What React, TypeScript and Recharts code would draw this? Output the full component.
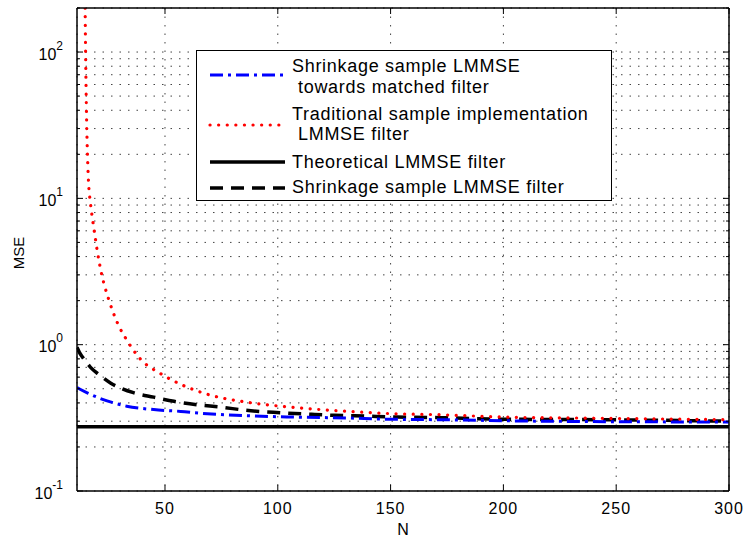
import { LineChart, Line, XAxis, YAxis, CartesianGrid, Legend } from "recharts";

const FONT = '"Liberation Sans", Arial, Helvetica, sans-serif';

// x = N (number of samples), y = MSE
const nShrinkMatched = [11, 16, 22, 28, 33, 45, 57, 66, 86, 107, 132, 146, 172, 216, 300];
const mseShrinkMatched = [0.51, 0.465, 0.425, 0.397, 0.38, 0.36, 0.35, 0.34, 0.327, 0.32, 0.315, 0.31, 0.307, 0.3, 0.296];

const nTraditional = [14, 15, 16, 17, 18, 19, 20, 22, 25, 29, 33, 39, 48, 58, 68, 86, 101, 131, 150, 172, 200, 235, 300];
const mseTraditional = [2000, 60, 14, 9.2, 7.0, 5.5, 4.35, 3.0, 2.05, 1.4, 1.08, 0.8, 0.635, 0.527, 0.462, 0.405, 0.38, 0.35, 0.338, 0.332, 0.32, 0.315, 0.307];

const nTheoretical = [11, 300];
const mseTheoretical = [0.275, 0.275];

const nShrink = [11, 12, 13, 14, 17, 21, 26, 31, 36, 45, 54, 64, 75, 86, 101, 115, 125, 134, 153, 172, 203, 231, 300];
const mseShrink = [0.96, 0.89, 0.84, 0.8, 0.7, 0.62, 0.545, 0.5, 0.47, 0.438, 0.41, 0.389, 0.374, 0.356, 0.343, 0.334, 0.329, 0.327, 0.32, 0.317, 0.309, 0.308, 0.3];

const xTicks = [50, 100, 150, 200, 250, 300];
const yTicks = [
  0.1, 0.2, 0.3, 0.4, 0.5, 0.6, 0.7, 0.8, 0.9,
  1, 2, 3, 4, 5, 6, 7, 8, 9,
  10, 20, 30, 40, 50, 60, 70, 80, 90,
  100, 200,
];

const zip = (ns: number[], vs: number[]) => ns.map((n, i) => ({ n, v: vs[i] }));

const shrinkMatchedData = zip(nShrinkMatched, mseShrinkMatched);
const traditionalData = zip(nTraditional, mseTraditional);
const theoreticalData = zip(nTheoretical, mseTheoretical);
const shrinkData = zip(nShrink, mseShrink);

const isDecade = (v: number) => Math.abs(Math.log10(v) - Math.round(Math.log10(v))) < 1e-6;

function LeftTick({ x, y, payload }: any) {
  const v = payload.value;
  const major = isDecade(v);
  return (
    <g>
      <line x1={x} x2={x + (major ? 6 : 3)} y1={y} y2={y} stroke="#000" />
      {major && (
        <text x={x - 14} y={y + 7.5} textAnchor="end" fontSize={16} fontFamily={FONT} fill="#000">
          10
          <tspan dy={-10} fontSize={12}>
            {Math.round(Math.log10(v))}
          </tspan>
        </text>
      )}
    </g>
  );
}

function RightTick({ x, y, payload }: any) {
  const major = isDecade(payload.value);
  return <line x1={x} x2={x - (major ? 6 : 3)} y1={y} y2={y} stroke="#000" />;
}

function BottomTick({ x, y, payload }: any) {
  return (
    <g>
      <line x1={x} x2={x} y1={y} y2={y - 6} stroke="#000" />
      <text x={x} y={y + 23} textAnchor="middle" fontSize={16} fontFamily={FONT} fill="#000" letterSpacing={1}>
        {payload.value}
      </text>
    </g>
  );
}

function TopTick({ x, y }: any) {
  return <line x1={x} x2={x} y1={y} y2={y + 6} stroke="#000" />;
}

function LegendBox() {
  const txt = { fontSize: 18, fontFamily: FONT, fill: "#000", letterSpacing: 0.7 } as const;
  return (
    <svg width={417} height={151}>
      <rect x={0.5} y={0.5} width={415} height={150} fill="#fff" stroke="#000" />
      <line x1={14} x2={89} y1={25} y2={25} stroke="#0000ff" strokeWidth={3} strokeDasharray="13 5 3 5" />
      <text x={96} y={22} {...txt}>Shrinkage sample LMMSE</text>
      <text x={102} y={43} {...txt}>towards matched filter</text>
      <line x1={14} x2={89} y1={75} y2={75} stroke="#ff0000" strokeWidth={3.2} strokeDasharray="0.1 8.5" strokeLinecap="round" />
      <text x={96} y={70} {...txt}>Traditional sample implementation</text>
      <text x={102} y={90} {...txt}>LMMSE filter</text>
      <line x1={14} x2={89} y1={112} y2={112} stroke="#000" strokeWidth={3.5} />
      <text x={96} y={118} {...txt}>Theoretical LMMSE filter</text>
      <line x1={14} x2={89} y1={138} y2={138} stroke="#000" strokeWidth={3.5} strokeDasharray="13 8" />
      <text x={96} y={143} {...txt}>Shrinkage sample LMMSE filter</text>
    </svg>
  );
}

export default function App() {
  return (
    <div style={{ position: "absolute", left: 0, top: 0, width: 746, height: 538, background: "#fff" }}>
      <LineChart width={746} height={538} margin={{ top: 0, right: 0, bottom: 0, left: 0 }}>
        <CartesianGrid stroke="#444" strokeDasharray="1.5 7" />
        <XAxis
          dataKey="n"
          type="number"
          domain={[11, 300]}
          ticks={xTicks}
          allowDataOverflow
          height={47}
          tickSize={0}
          tickMargin={0}
          tickLine={false}
          axisLine={{ stroke: "#000", strokeWidth: 1.5 }}
          tick={<BottomTick />}
          label={{
            content: () => (
              <text x={403} y={535} textAnchor="middle" fontSize={16} fontFamily={FONT} fill="#000">
                N
              </text>
            ),
          }}
        />
        <XAxis
          xAxisId="top"
          orientation="top"
          dataKey="n"
          type="number"
          domain={[11, 300]}
          ticks={xTicks}
          allowDataOverflow
          height={8}
          tickSize={0}
          tickMargin={0}
          tickLine={false}
          axisLine={{ stroke: "#000", strokeWidth: 1.5 }}
          tick={<TopTick />}
        />
        <YAxis
          scale="log"
          type="number"
          domain={[0.1, 200]}
          ticks={yTicks}
          allowDataOverflow
          width={77}
          tickSize={0}
          tickMargin={0}
          tickLine={false}
          axisLine={{ stroke: "#000", strokeWidth: 1.5 }}
          tick={<LeftTick />}
          interval={0}
          label={{
            content: () => (
              <text x={24} y={253} transform="rotate(-90 24 253)" textAnchor="middle" fontSize={15} fontFamily={FONT} fill="#000">
                MSE
              </text>
            ),
          }}
        />
        <YAxis
          yAxisId="right"
          orientation="right"
          scale="log"
          type="number"
          domain={[0.1, 200]}
          ticks={yTicks}
          allowDataOverflow
          width={17}
          tickSize={0}
          tickMargin={0}
          tickLine={false}
          interval={0}
          axisLine={{ stroke: "#000", strokeWidth: 1.5 }}
          tick={<RightTick />}
        />
        <Legend
          layout="horizontal"
          verticalAlign="middle"
          align="center"
          content={() => <LegendBox />}
          wrapperStyle={{ left: 196, top: 50, width: 417, height: 151 }}
        />
        <Line
          data={theoreticalData}
          dataKey="v"
          type="linear"
          stroke="#000"
          strokeWidth={3.5}
          dot={false}
          isAnimationActive={false}
        />
        <Line
          data={shrinkData}
          dataKey="v"
          type="monotone"
          stroke="#000"
          strokeWidth={3.5}
          strokeDasharray="13 8"
          dot={false}
          isAnimationActive={false}
        />
        <Line
          data={shrinkMatchedData}
          dataKey="v"
          type="monotone"
          stroke="#0000ff"
          strokeWidth={3}
          strokeDasharray="13 5 3 5"
          dot={false}
          isAnimationActive={false}
        />
        <Line
          data={traditionalData}
          dataKey="v"
          type="monotone"
          stroke="#ff0000"
          strokeWidth={3.2}
          strokeDasharray="0.1 8.5"
          strokeLinecap="round"
          dot={false}
          isAnimationActive={false}
        />
      </LineChart>
    </div>
  );
}
